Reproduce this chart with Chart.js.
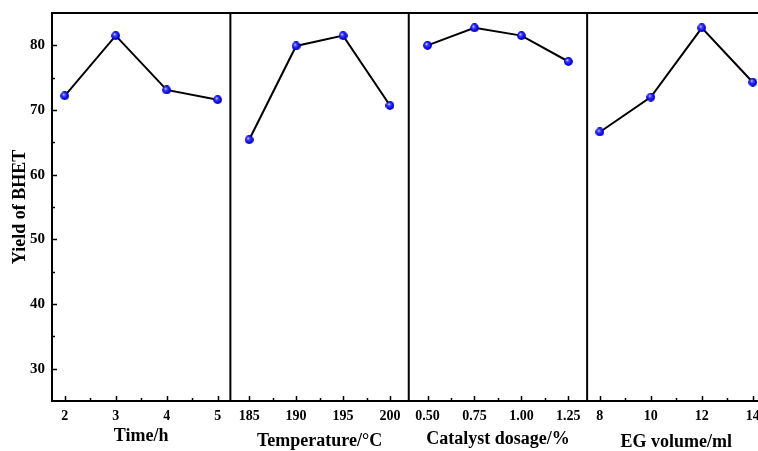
<!DOCTYPE html>
<html><head><meta charset="utf-8">
<script src="https://cdn.jsdelivr.net/npm/chart.js@4/dist/chart.umd.min.js"></script>
<style>
html,body{margin:0;padding:0;overflow:hidden;background:#fff;width:758px;height:451px}
#wrap{position:relative;width:772px;height:460px}
</style>
</head><body><div id="wrap"><canvas id="c" width="772" height="460"></canvas></div>
<script>
// ---- data ----
const timeValues = [2, 3, 4, 5];
const timeYield = [72.2, 81.5, 73.1, 71.6];
const tempValues = [185, 190, 195, 200];
const tempYield = [65.4, 79.9, 81.5, 70.7];
const catalystValues = [0.5, 0.75, 1.0, 1.25];
const catalystYield = [80.0, 82.7, 81.5, 77.5];
const egValues = [8, 10, 12, 14];
const egYield = [66.6, 72.0, 82.7, 74.3];

const timeTickLabels = ['2', '3', '4', '5'];
const tempTickLabels = ['185', '190', '195', '200'];
const catalystTickLabels = ['0.50', '0.75', '1.00', '1.25'];
const egTickLabels = ['8', '10', '12', '14'];
const timeMinor = [2.5, 3.5, 4.5];
const tempMinor = [187.5, 192.5, 197.5];
const catalystMinor = [0.625, 0.875, 1.125];
const egMinor = [9, 11, 13];

const yMajor = [30, 40, 50, 60, 70, 80];
const yMinor = [35, 45, 55, 65, 75];
const yTitle = 'Yield of BHET';
const panelTitles = ['Time/h', 'Temperature/\u00B0C', 'Catalyst dosage/%', 'EG volume/ml'];

// ---- styling ----
const FONT = 'Liberation Serif, Times New Roman, serif';
function sphere() {
  const c = document.createElement('canvas');
  c.width = 9; c.height = 9;
  const g = c.getContext('2d');
  const grad = g.createRadialGradient(3.2, 3.0, 0.2, 4.5, 4.5, 4.5);
  grad.addColorStop(0, '#e8e8ff');
  grad.addColorStop(0.3, '#4040ff');
  grad.addColorStop(0.8, '#0000e6');
  grad.addColorStop(1, '#000090');
  g.fillStyle = grad;
  g.beginPath(); g.arc(4.5, 4.5, 4.4, 0, Math.PI * 2); g.fill();
  return c;
}
const dot = sphere();

function xAxis(min, max, major, minor, labels, title, titlePad) {
  return {
    type: 'linear', position: 'bottom', stack: 'panels', stackWeight: 1,
    min: min, max: max,
    grid: { display: false, drawTicks: false },
    border: { display: false },
    afterBuildTicks: s => { s.ticks = major.concat(minor).sort((a, b) => a - b).map(v => ({ value: v })); },
    ticks: {
      autoSkip: false, maxRotation: 0, minRotation: 0, padding: 7, color: '#000',
      font: { family: FONT, weight: 'bold', size: 14 },
      callback: v => { const i = major.indexOf(v); return i >= 0 ? labels[i] : ''; }
    },
    title: {
      display: true, text: title, color: '#000',
      font: { family: FONT, weight: 'bold', size: 18 },
      padding: { top: 0, bottom: titlePad }
    },
    afterFit: s => { s.height = 59; s.paddingLeft = 0; s.paddingRight = 0; }
  };
}

function ds(xs, ys, axis) {
  return {
    data: xs.map((x, i) => ({ x: x, y: ys[i] })),
    xAxisID: axis, yAxisID: 'y',
    borderColor: '#000', borderWidth: 2, tension: 0,
    pointStyle: dot, pointRadius: 4.5, pointHoverRadius: 4.5,
    clip: false
  };
}

const majorSets = { x1: timeValues, x2: tempValues, x3: catalystValues, x4: egValues };

const framePlugin = {
  id: 'frame',
  afterDatasetsDraw(chart) {
    const ctx = chart.ctx, a = chart.chartArea;
    ctx.save();
    ctx.strokeStyle = '#000';
    ctx.lineWidth = 1.5;
    ['x1', 'x2', 'x3', 'x4'].forEach(id => {
      const s = chart.scales[id];
      s.ticks.forEach(t => {
        const px = Math.round(s.getPixelForValue(t.value)) + 0.5;
        const len = majorSets[id].indexOf(t.value) >= 0 ? 5 : 3;
        ctx.beginPath(); ctx.moveTo(px, a.bottom); ctx.lineTo(px, a.bottom - len); ctx.stroke();
      });
    });
    const ys = chart.scales.y;
    ys.ticks.forEach(t => {
      const py = Math.round(ys.getPixelForValue(t.value)) + 0.5;
      const len = yMajor.indexOf(t.value) >= 0 ? 5 : 3;
      ctx.beginPath(); ctx.moveTo(a.left, py); ctx.lineTo(a.left + len, py); ctx.stroke();
    });
    ctx.lineWidth = 2;
    ctx.strokeRect(a.left, a.top, a.right - a.left, a.bottom - a.top);
    ['x2', 'x3', 'x4'].forEach(id => {
      const s = chart.scales[id];
      ctx.beginPath(); ctx.moveTo(s.left, a.top); ctx.lineTo(s.left, a.bottom); ctx.stroke();
    });
    ctx.restore();
  }
};

new Chart(document.getElementById('c'), {
  type: 'line',
  data: {
    datasets: [
      ds(timeValues, timeYield, 'x1'),
      ds(tempValues, tempYield, 'x2'),
      ds(catalystValues, catalystYield, 'x3'),
      ds(egValues, egYield, 'x4')
    ]
  },
  options: {
    responsive: false, animation: false, devicePixelRatio: 1,
    layout: { padding: { left: 0, top: 13, right: 5, bottom: 0 } },
    plugins: { legend: { display: false }, tooltip: { enabled: false } },
    scales: {
      x1: xAxis(1.75, 5.25, timeValues, timeMinor, timeTickLabels, panelTitles[0], 13),
      x2: xAxis(183, 202, tempValues, tempMinor, tempTickLabels, panelTitles[1], 8),
      x3: xAxis(0.4, 1.35, catalystValues, catalystMinor, catalystTickLabels, panelTitles[2], 10),
      x4: xAxis(7.5, 14.5, egValues, egMinor, egTickLabels, panelTitles[3], 7),
      y: {
        type: 'linear', position: 'left', min: 25, max: 85,
        grid: { display: false, drawTicks: false },
        border: { display: false },
        afterBuildTicks: s => { s.ticks = yMajor.concat(yMinor).sort((a, b) => a - b).map(v => ({ value: v })); },
        ticks: {
          autoSkip: false, padding: 7, color: '#000',
          font: { family: FONT, weight: 'bold', size: 15 },
          callback: v => (yMajor.indexOf(v) >= 0 ? String(v) : '')
        },
        title: {
          display: true, text: yTitle, color: '#000',
          font: { family: FONT, weight: 'bold', size: 18 },
          padding: { top: 10, bottom: 0 }
        },
        afterFit: s => { s.width = 52; s.paddingTop = 0; s.paddingBottom = 0; }
      }
    }
  },
  plugins: [framePlugin]
});
</script>
</body></html>
